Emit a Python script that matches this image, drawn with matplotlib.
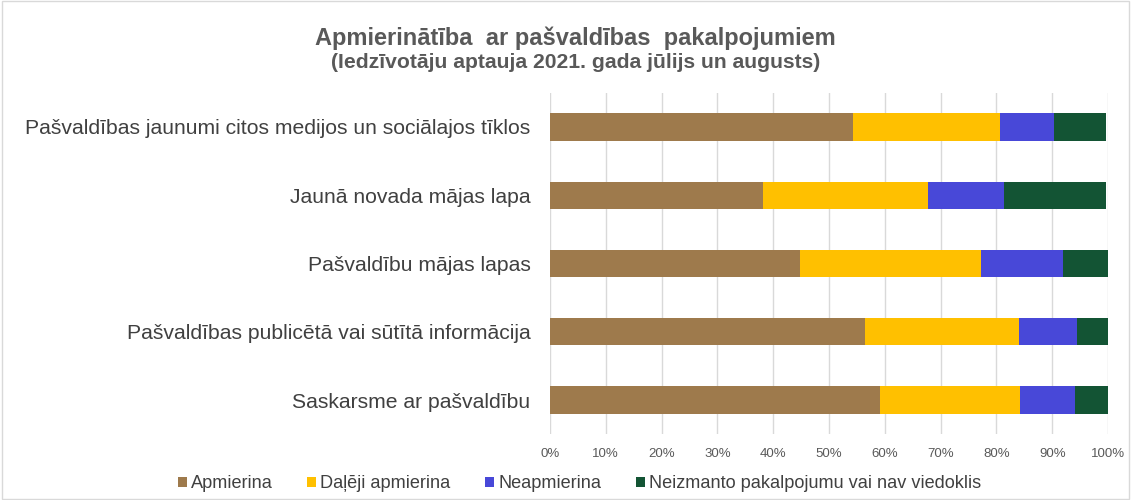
import matplotlib.pyplot as plt
import numpy as np

# Data (percent), top to bottom
categories = [
    'Pašvaldības jaunumi citos medijos un sociālajos tīklos',
    'Jaunā novada mājas lapa',
    'Pašvaldību mājas lapas',
    'Pašvaldības publicētā vai sūtītā informācija',
    'Saskarsme ar pašvaldību',
]
apmierina = [54.3, 38.2, 44.8, 56.5, 59.1]
daleji = [26.4, 29.5, 32.4, 27.6, 25.2]
neapmierina = [9.6, 13.6, 14.8, 10.3, 9.7]
neizmanto = [9.4, 18.4, 8.0, 5.6, 6.0]

series_names = ['Apmierina', 'Daļēji apmierina', 'Neapmierina',
                'Neizmanto pakalpojumu vai nav viedoklis']
colors = ['#9E7A4C', '#FFC000', '#4848D8', '#135434']

plt.rcParams['font.family'] = ['Liberation Sans', 'DejaVu Sans']

fig = plt.figure(figsize=(11.31, 5), dpi=100)
ax = fig.add_axes([0.4863, 0.1315, 0.4934, 0.683])

y = np.arange(len(categories))
left = np.zeros(len(categories))
for vals, name, col in zip([apmierina, daleji, neapmierina, neizmanto], series_names, colors):
    ax.barh(y, vals, left=left, height=0.4, color=col, label=name, zorder=3)
    left += np.array(vals)

ax.set_ylim(4.5, -0.5)
ax.set_xlim(0, 100)
ax.set_yticks(y)
ax.set_yticklabels(categories, fontsize=15.2, color='#404040')
ax.set_xticks(np.arange(0, 101, 10))
ax.set_xticklabels([f'{v}%' for v in range(0, 101, 10)], fontsize=9.5, color='#595959')
ax.tick_params(axis='y', length=0, pad=14)
ax.tick_params(axis='x', length=0, pad=10)
ax.grid(axis='x', color='#D9D9D9', linewidth=1, zorder=0)
for s in ax.spines.values():
    s.set_visible(False)

fig.text(0.509, 0.924, 'Apmierinātība  ar pašvaldības  pakalpojumiem', ha='center', va='center',
         fontsize=17, fontweight='bold', color='#595959')
fig.text(0.509, 0.874, '(Iedzīvotāju aptauja 2021. gada jūlijs un augusts)', ha='center', va='center',
         fontsize=15.2, fontweight='bold', color='#595959')

fig.legend(loc='center', bbox_to_anchor=(0.5124, 0.032), ncol=4, frameon=False,
           fontsize=13.1, handlelength=0.5, handleheight=0.5, handletextpad=0.22,
           columnspacing=1.9, labelcolor='#404040')

fig.patches.append(plt.Rectangle((0.002, 0.002), 0.996, 0.996, transform=fig.transFigure,
                                 fill=False, edgecolor='#D9D9D9', linewidth=1))

fig.savefig('out.png', dpi=100)
